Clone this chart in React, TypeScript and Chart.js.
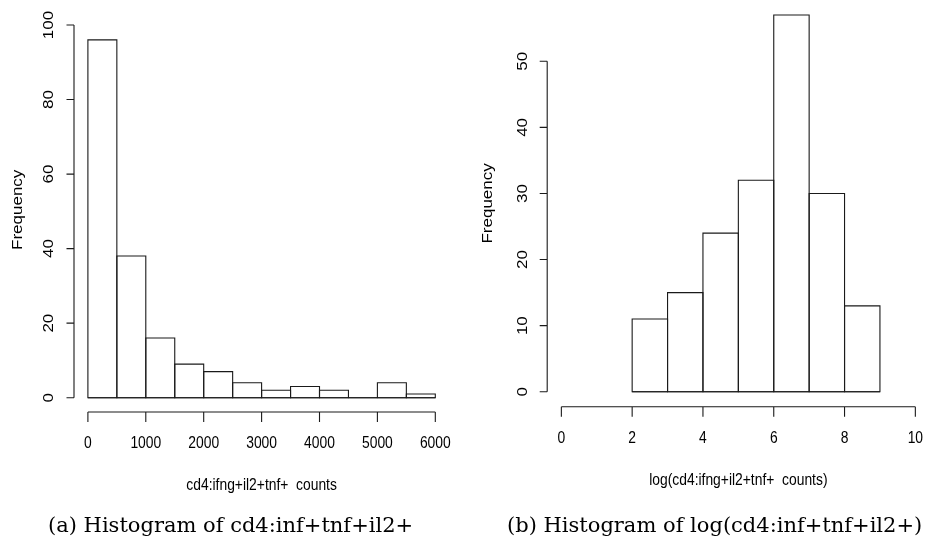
import React, { useEffect, useRef } from 'react';
import { Chart, registerables } from 'chart.js';

Chart.register(...registerables);

// ---- Data: panel (a) ----
const breaksA = [0, 500, 1000, 1500, 2000, 2500, 3000, 3500, 4000, 4500, 5000, 5500, 6000];
const countsA = [96, 38, 16, 9, 7, 4, 2, 3, 2, 0, 4, 1];
const xTicksA = [0, 1000, 2000, 3000, 4000, 5000, 6000];
const yTicksA = [0, 20, 40, 60, 80, 100];
const xlimA = [0, 6000];
const xTitleA = 'cd4:ifng+il2+tnf+  counts';
const captionA = '(a) Histogram of cd4:inf+tnf+il2+';

// ---- Data: panel (b) ----
const breaksB = [2, 3, 4, 5, 6, 7, 8, 9];
const countsB = [11, 15, 24, 32, 57, 30, 13];
const xTicksB = [0, 2, 4, 6, 8, 10];
const yTicksB = [0, 10, 20, 30, 40, 50];
const xlimB = [0, 10];
const xTitleB = 'log(cd4:ifng+il2+tnf+  counts)';
const captionB = '(b) Histogram of log(cd4:inf+tnf+il2+)';

const yTitle = 'Frequency';

const LINE = '#1a1a1a';
const FONT = '17px "Liberation Sans", Arial, Helvetica, sans-serif';
const SX = 0.815;

type HistProps = {
  breaks: number[];
  counts: number[];
  xlim: number[];
  xTicks: number[];
  yTicks: number[];
  xTitle: string;
  left: number;
  width: number;
  padding: { left: number; right: number; top: number; bottom: number };
  yTitleOff: number;
  yTitleShift: number;
};

function drawText(ctx: CanvasRenderingContext2D, text: string, x: number, y: number, rotate: boolean) {
  ctx.save();
  ctx.translate(x, y);
  ctx.scale(SX, 1);
  if (rotate) ctx.rotate(-Math.PI / 2);
  ctx.fillText(text, 0, 0);
  ctx.restore();
}

function Hist(p: HistProps) {
  const ref = useRef<HTMLCanvasElement>(null);
  useEffect(() => {
    const pad = (a: number, b: number) => [a - 0.04 * (b - a), b + 0.04 * (b - a)];
    const [x0, x1] = pad(p.xlim[0], p.xlim[1]);
    const [y0, y1] = pad(0, Math.max(...p.counts));
    const points = p.counts.map((c, i) => ({ x: (p.breaks[i] + p.breaks[i + 1]) / 2, y: c }));

    const rAxes = {
      id: 'rAxes',
      afterDatasetsDraw(chart: any) {
        const ctx: CanvasRenderingContext2D = chart.ctx;
        ctx.save();
        ctx.strokeStyle = LINE;
        ctx.lineWidth = 1.1;
        chart.getDatasetMeta(0).data.forEach((el: any) => {
          const { x, y, base, width } = el.getProps(['x', 'y', 'base', 'width'], true);
          ctx.beginPath();
          ctx.rect(x - width / 2, y, width, base - y);
          ctx.stroke();
        });
        const xs = chart.scales.x;
        const ys = chart.scales.y;
        const b0 = ys.getPixelForValue(0);
        ctx.beginPath();
        ctx.moveTo(xs.getPixelForValue(p.breaks[0]), b0);
        ctx.lineTo(xs.getPixelForValue(p.breaks[p.breaks.length - 1]), b0);
        ctx.stroke();
        ctx.restore();
      },
      afterDraw(chart: any) {
        const ctx: CanvasRenderingContext2D = chart.ctx;
        const xs = chart.scales.x;
        const ys = chart.scales.y;
        const area = chart.chartArea;
        ctx.save();
        ctx.strokeStyle = LINE;
        ctx.lineWidth = 1.1;
        ctx.fillStyle = '#000';
        ctx.font = FONT;
        // x axis
        const bx = area.bottom;
        const xa = xs.getPixelForValue(p.xTicks[0]);
        const xb = xs.getPixelForValue(p.xTicks[p.xTicks.length - 1]);
        ctx.beginPath();
        ctx.moveTo(xa, bx);
        ctx.lineTo(xb, bx);
        p.xTicks.forEach((t) => {
          const px = xs.getPixelForValue(t);
          ctx.moveTo(px, bx);
          ctx.lineTo(px, bx + 10);
        });
        ctx.stroke();
        ctx.textAlign = 'center';
        ctx.textBaseline = 'middle';
        p.xTicks.forEach((t) => drawText(ctx, String(t), xs.getPixelForValue(t), bx + 31.5, false));
        drawText(ctx, p.xTitle, (area.left + area.right) / 2, bx + 73.5, false);
        // y axis
        const lx = area.left;
        const ya = ys.getPixelForValue(p.yTicks[0]);
        const yb = ys.getPixelForValue(p.yTicks[p.yTicks.length - 1]);
        ctx.beginPath();
        ctx.moveTo(lx, ya);
        ctx.lineTo(lx, yb);
        p.yTicks.forEach((t) => {
          const py = ys.getPixelForValue(t);
          ctx.moveTo(lx, py);
          ctx.lineTo(lx - 7.5, py);
        });
        ctx.stroke();
        p.yTicks.forEach((t) => drawText(ctx, String(t), lx - 24.5, ys.getPixelForValue(t), true));
        drawText(ctx, yTitle, lx - p.yTitleOff, (area.top + area.bottom) / 2 + p.yTitleShift, true);
        ctx.restore();
      },
    };

    const chart = new Chart(ref.current as HTMLCanvasElement, {
      type: 'bar',
      data: {
        datasets: [
          {
            data: points as any,
            backgroundColor: '#fff',
            borderWidth: 0,
            inflateAmount: 0,
            barPercentage: 1,
            categoryPercentage: 1,
          },
        ],
      },
      options: {
        animation: false,
        responsive: false,
        maintainAspectRatio: false,
        events: [],
        layout: { padding: p.padding },
        plugins: { legend: { display: false }, tooltip: { enabled: false } },
        scales: {
          x: { type: 'linear', display: false, min: x0, max: x1, offset: false, grid: { offset: false } },
          y: { type: 'linear', display: false, min: y0, max: y1 },
        },
      },
      plugins: [rAxes as any],
    });
    return () => chart.destroy();
  }, []);
  return (
    <canvas
      ref={ref}
      width={p.width}
      height={541}
      style={{ position: 'absolute', left: p.left, top: 0, width: p.width, height: 541 }}
    />
  );
}

const captionStyle: React.CSSProperties = {
  position: 'absolute',
  top: 515,
  font: '21px "DejaVu Serif", serif',
  lineHeight: '21px',
  whiteSpace: 'nowrap',
  color: '#000',
};

export default function App() {
  return (
    <div
      style={{
        position: 'fixed',
        left: 0,
        top: 0,
        width: 925,
        height: 541,
        overflow: 'hidden',
        background: '#fff',
      }}
    >
      <Hist
        breaks={breaksA}
        counts={countsA}
        xlim={xlimA}
        xTicks={xTicksA}
        yTicks={yTicksA}
        xTitle={xTitleA}
        left={0}
        width={460}
        padding={{ left: 74, top: 25.6, right: 10.8, bottom: 129 }}
        yTitleOff={56}
        yTitleShift={-9}
      />
      <Hist
        breaks={breaksB}
        counts={countsB}
        xlim={xlimB}
        xTicks={xTicksB}
        yTicks={yTicksB}
        xTitle={xTitleB}
        left={460}
        width={470}
        padding={{ left: 87.2, top: 0, right: 0.5, bottom: 134.2 }}
        yTitleOff={59}
        yTitleShift={0}
      />
      <div style={{ ...captionStyle, left: 48 }}>{captionA}</div>
      <div style={{ ...captionStyle, left: 507 }}>{captionB}</div>
    </div>
  );
}
